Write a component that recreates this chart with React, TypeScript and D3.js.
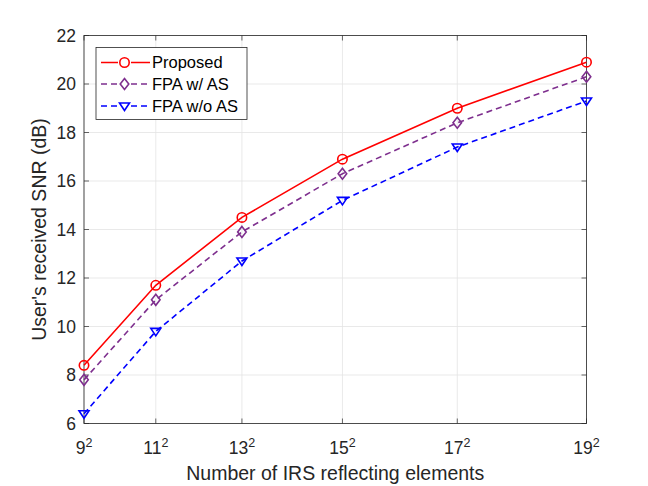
import * as d3 from "d3";

const bases = [9, 11, 13, 15, 17, 19];
const proposed = [8.4, 11.7, 14.5, 16.9, 19.0, 20.9];
const fpaWithAS = [7.8, 11.1, 13.9, 16.3, 18.4, 20.3];
const fpaWithoutAS = [6.4, 9.8, 12.7, 15.2, 17.4, 19.3];
const yTicks = [6, 8, 10, 12, 14, 16, 18, 20, 22];

const series = [
  { name: "Proposed", values: proposed, color: "#ff0000", dash: null, marker: "circle" },
  { name: "FPA w/ AS", values: fpaWithAS, color: "#7E2F8E", dash: "6 4", marker: "diamond" },
  { name: "FPA w/o AS", values: fpaWithoutAS, color: "#0000ff", dash: "6 4", marker: "triangle" },
];

const W = 648;
const H = 486;
const m = { left: 84, right: 61.5, top: 35.5, bottom: 62.5 };
const font = "Liberation Sans, Arial, sans-serif";

const Marker = ({ type, x, y, color }: { type: string; x: number; y: number; color: string }) => {
  if (type === "circle")
    return <circle cx={x} cy={y} r={4.7} fill="none" stroke={color} strokeWidth={1.6} />;
  if (type === "diamond") {
    const r = 5.5;
    return (
      <path
        d={`M${x},${y - r}L${x + r * 0.78},${y}L${x},${y + r}L${x - r * 0.78},${y}Z`}
        fill="none"
        stroke={color}
        strokeWidth={1.6}
      />
    );
  }
  const r = 5;
  return (
    <path
      d={`M${x - r},${y - r * 0.6}L${x + r},${y - r * 0.6}L${x},${y + r * 0.9}Z`}
      fill="none"
      stroke={color}
      strokeWidth={1.6}
    />
  );
};

export default function App() {
  const x = d3
    .scaleLinear()
    .domain([81, 361])
    .range([m.left, W - m.right]);
  const y = d3
    .scaleLinear()
    .domain([6, 22])
    .range([H - m.bottom, m.top]);

  const line = d3
    .line<number>()
    .x((_, i) => x(bases[i] * bases[i]))
    .y((d) => y(d));

  const x0 = m.left;
  const x1 = W - m.right;
  const y0 = H - m.bottom;
  const y1 = m.top;

  const lg = { x: 96, y: 47.5, w: 151, h: 72 };
  const rowY = [62.5, 84, 106];

  return (
    <svg width={W} height={H} style={{ position: "absolute", left: 0, top: 0, background: "#fff" }}>
      <rect x={0} y={0} width={W} height={H} fill="#fff" />
      {/* grid */}
      {bases.map((b) => (
        <line key={"gx" + b} x1={x(b * b)} x2={x(b * b)} y1={y0} y2={y1} stroke="#e3e3e3" strokeWidth={0.8} />
      ))}
      {yTicks.map((t) => (
        <line key={"gy" + t} x1={x0} x2={x1} y1={y(t)} y2={y(t)} stroke="#e3e3e3" strokeWidth={0.8} />
      ))}
      {/* ticks */}
      {bases.map((b) => (
        <g key={"tx" + b}>
          <line x1={x(b * b)} x2={x(b * b)} y1={y0} y2={y0 - 5} stroke="#262626" strokeWidth={0.7} />
          <line x1={x(b * b)} x2={x(b * b)} y1={y1} y2={y1 + 5} stroke="#262626" strokeWidth={0.7} />
          <text x={x(b * b)} y={454} textAnchor="middle" fontFamily={font} fontSize={17.5} fill="#262626">
            {b}
            <tspan dy={-7.5} fontSize={12.5}>2</tspan>
          </text>
        </g>
      ))}
      {yTicks.map((t) => (
        <g key={"ty" + t}>
          <line x1={x0} x2={x0 + 5} y1={y(t)} y2={y(t)} stroke="#262626" strokeWidth={0.7} />
          <line x1={x1} x2={x1 - 5} y1={y(t)} y2={y(t)} stroke="#262626" strokeWidth={0.7} />
          <text x={x0 - 8} y={y(t)} dy="0.36em" textAnchor="end" fontFamily={font} fontSize={17.5} fill="#262626">
            {t}
          </text>
        </g>
      ))}
      {/* frame */}
      <rect x={x0} y={y1} width={x1 - x0} height={y0 - y1} fill="none" stroke="#262626" strokeWidth={0.8} />
      {/* series */}
      {series.map((s) => (
        <g key={s.name}>
          <path d={line(s.values) || ""} fill="none" stroke={s.color} strokeWidth={1.6} strokeDasharray={s.dash || undefined} />
          {s.values.map((v, i) => (
            <Marker key={i} type={s.marker} x={x(bases[i] * bases[i])} y={y(v)} color={s.color} />
          ))}
        </g>
      ))}
      {/* legend */}
      <rect x={lg.x} y={lg.y} width={lg.w} height={lg.h} fill="#fff" stroke="#262626" strokeWidth={0.8} />
      {series.map((s, i) => (
        <g key={"lg" + s.name}>
          <line x1={101} x2={150} y1={rowY[i]} y2={rowY[i]} stroke={s.color} strokeWidth={1.6} strokeDasharray={s.dash || undefined} />
          <rect x={118} y={rowY[i] - 7} width={13} height={14} fill="#fff" />
          <Marker type={s.marker} x={124.5} y={rowY[i]} color={s.color} />
          <text x={152} y={rowY[i]} dy="0.36em" fontFamily={font} fontSize={16.5} fill="#000">
            {s.name}
          </text>
        </g>
      ))}
      {/* axis labels */}
      <text x={(x0 + x1) / 2} y={480} textAnchor="middle" fontFamily={font} fontSize={19.5} fill="#262626">
        Number of IRS reflecting elements
      </text>
      <text
        transform={`translate(46,${(y0 + y1) / 2}) rotate(-90)`}
        textAnchor="middle"
        fontFamily={font}
        fontSize={19.5}
        fill="#262626"
      >
        User's received SNR (dB)
      </text>
    </svg>
  );
}
